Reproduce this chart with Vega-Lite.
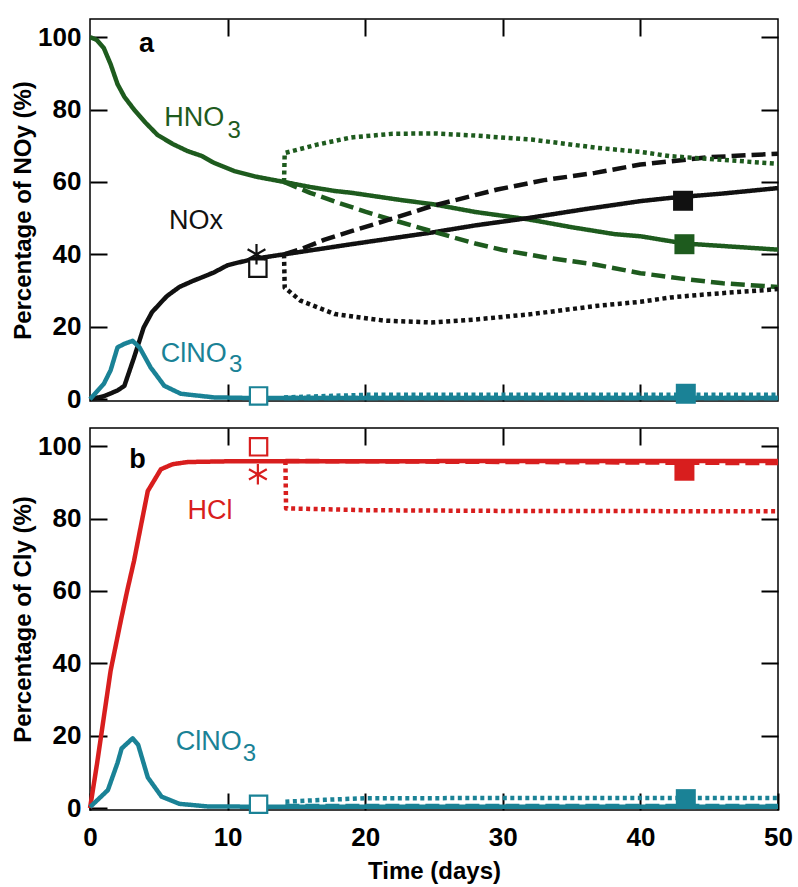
{
  "$schema": "https://vega.github.io/schema/vega-lite/v6.json",
  "background": "#ffffff",
  "padding": {"top": 17, "left": 10, "right": 4, "bottom": 0},
  "config": {
    "view": {"stroke": "#000000", "strokeWidth": 1.5},
    "font": "Liberation Sans",
    "axis": {"labelFlush": false, "labelOverlap": false, "minExtent": 0}
  },
  "spacing": 27,
  "bounds": "flush",
  "datasets": {
    "lines": [
      {"p":"a","sp":"HNO3","sc":"solid","t":0,"v":100},{"p":"a","sp":"HNO3","sc":"solid","t":0.5,"v":99.2},{"p":"a","sp":"HNO3","sc":"solid","t":1,"v":97},{"p":"a","sp":"HNO3","sc":"solid","t":1.5,"v":92.5},{"p":"a","sp":"HNO3","sc":"solid","t":2,"v":87},{"p":"a","sp":"HNO3","sc":"solid","t":2.5,"v":83.5},{"p":"a","sp":"HNO3","sc":"solid","t":3.2,"v":80},{"p":"a","sp":"HNO3","sc":"solid","t":4,"v":76.5},{"p":"a","sp":"HNO3","sc":"solid","t":4.9,"v":73},{"p":"a","sp":"HNO3","sc":"solid","t":6,"v":70.5},{"p":"a","sp":"HNO3","sc":"solid","t":7.1,"v":68.5},{"p":"a","sp":"HNO3","sc":"solid","t":8.1,"v":67.2},{"p":"a","sp":"HNO3","sc":"solid","t":9,"v":65.3},{"p":"a","sp":"HNO3","sc":"solid","t":10.5,"v":63},{"p":"a","sp":"HNO3","sc":"solid","t":12,"v":61.5},{"p":"a","sp":"HNO3","sc":"solid","t":14.1,"v":60},{"p":"a","sp":"HNO3","sc":"solid","t":16,"v":58.6},{"p":"a","sp":"HNO3","sc":"solid","t":17.8,"v":57.5},{"p":"a","sp":"HNO3","sc":"solid","t":19,"v":57},{"p":"a","sp":"HNO3","sc":"solid","t":22.6,"v":55},{"p":"a","sp":"HNO3","sc":"solid","t":25,"v":53.8},{"p":"a","sp":"HNO3","sc":"solid","t":28,"v":51.7},{"p":"a","sp":"HNO3","sc":"solid","t":31.8,"v":49.7},{"p":"a","sp":"HNO3","sc":"solid","t":35,"v":47.5},{"p":"a","sp":"HNO3","sc":"solid","t":38.1,"v":45.6},{"p":"a","sp":"HNO3","sc":"solid","t":40,"v":45},{"p":"a","sp":"HNO3","sc":"solid","t":43.2,"v":43},{"p":"a","sp":"HNO3","sc":"solid","t":46,"v":42.3},{"p":"a","sp":"HNO3","sc":"solid","t":50,"v":41.3},
      {"p":"a","sp":"NOx","sc":"solid","t":0,"v":0},{"p":"a","sp":"NOx","sc":"solid","t":1,"v":0.8},{"p":"a","sp":"NOx","sc":"solid","t":2,"v":2.4},{"p":"a","sp":"NOx","sc":"solid","t":2.5,"v":3.7},{"p":"a","sp":"NOx","sc":"solid","t":3.2,"v":11.5},{"p":"a","sp":"NOx","sc":"solid","t":3.9,"v":19.8},{"p":"a","sp":"NOx","sc":"solid","t":4.5,"v":24},{"p":"a","sp":"NOx","sc":"solid","t":5.15,"v":26.7},{"p":"a","sp":"NOx","sc":"solid","t":5.6,"v":28.5},{"p":"a","sp":"NOx","sc":"solid","t":6.5,"v":31},{"p":"a","sp":"NOx","sc":"solid","t":7.5,"v":32.7},{"p":"a","sp":"NOx","sc":"solid","t":8.1,"v":33.6},{"p":"a","sp":"NOx","sc":"solid","t":9,"v":35},{"p":"a","sp":"NOx","sc":"solid","t":10,"v":37},{"p":"a","sp":"NOx","sc":"solid","t":10.5,"v":37.5},{"p":"a","sp":"NOx","sc":"solid","t":12,"v":38.8},{"p":"a","sp":"NOx","sc":"solid","t":14.1,"v":40},{"p":"a","sp":"NOx","sc":"solid","t":19,"v":42.8},{"p":"a","sp":"NOx","sc":"solid","t":22.6,"v":44.8},{"p":"a","sp":"NOx","sc":"solid","t":24.8,"v":46},{"p":"a","sp":"NOx","sc":"solid","t":28,"v":48},{"p":"a","sp":"NOx","sc":"solid","t":31.8,"v":50},{"p":"a","sp":"NOx","sc":"solid","t":36,"v":52.5},{"p":"a","sp":"NOx","sc":"solid","t":40,"v":54.7},{"p":"a","sp":"NOx","sc":"solid","t":42.2,"v":55.6},{"p":"a","sp":"NOx","sc":"solid","t":46,"v":56.8},{"p":"a","sp":"NOx","sc":"solid","t":50,"v":58.3},
      {"p":"a","sp":"ClNO3","sc":"solid","t":0,"v":0},{"p":"a","sp":"ClNO3","sc":"solid","t":1,"v":4.2},{"p":"a","sp":"ClNO3","sc":"solid","t":1.5,"v":8},{"p":"a","sp":"ClNO3","sc":"solid","t":2,"v":14.3},{"p":"a","sp":"ClNO3","sc":"solid","t":2.5,"v":15.3},{"p":"a","sp":"ClNO3","sc":"solid","t":3.1,"v":16.1},{"p":"a","sp":"ClNO3","sc":"solid","t":3.6,"v":14.3},{"p":"a","sp":"ClNO3","sc":"solid","t":4.4,"v":8.8},{"p":"a","sp":"ClNO3","sc":"solid","t":5.4,"v":3.7},{"p":"a","sp":"ClNO3","sc":"solid","t":6.6,"v":1.5},{"p":"a","sp":"ClNO3","sc":"solid","t":9,"v":0.5},{"p":"a","sp":"ClNO3","sc":"solid","t":12,"v":0.3},{"p":"a","sp":"ClNO3","sc":"solid","t":30,"v":0.3},{"p":"a","sp":"ClNO3","sc":"solid","t":50,"v":0.3},
      {"p":"a","sp":"HNO3","sc":"dashed","t":14.1,"v":60},{"p":"a","sp":"HNO3","sc":"dashed","t":16,"v":57},{"p":"a","sp":"HNO3","sc":"dashed","t":18,"v":54.3},{"p":"a","sp":"HNO3","sc":"dashed","t":20,"v":51.8},{"p":"a","sp":"HNO3","sc":"dashed","t":22,"v":49.5},{"p":"a","sp":"HNO3","sc":"dashed","t":25,"v":46.2},{"p":"a","sp":"HNO3","sc":"dashed","t":28,"v":43},{"p":"a","sp":"HNO3","sc":"dashed","t":30,"v":41.2},{"p":"a","sp":"HNO3","sc":"dashed","t":33,"v":39.2},{"p":"a","sp":"HNO3","sc":"dashed","t":36.7,"v":37.2},{"p":"a","sp":"HNO3","sc":"dashed","t":40,"v":34.8},{"p":"a","sp":"HNO3","sc":"dashed","t":43,"v":33.3},{"p":"a","sp":"HNO3","sc":"dashed","t":46,"v":32},{"p":"a","sp":"HNO3","sc":"dashed","t":50,"v":31},
      {"p":"a","sp":"NOx","sc":"dashed","t":14.1,"v":40},{"p":"a","sp":"NOx","sc":"dashed","t":15.3,"v":41.4},{"p":"a","sp":"NOx","sc":"dashed","t":17,"v":44},{"p":"a","sp":"NOx","sc":"dashed","t":19,"v":46.4},{"p":"a","sp":"NOx","sc":"dashed","t":22.6,"v":50.6},{"p":"a","sp":"NOx","sc":"dashed","t":24.8,"v":53.3},{"p":"a","sp":"NOx","sc":"dashed","t":29.6,"v":57.9},{"p":"a","sp":"NOx","sc":"dashed","t":33,"v":60.5},{"p":"a","sp":"NOx","sc":"dashed","t":36.7,"v":62.5},{"p":"a","sp":"NOx","sc":"dashed","t":40,"v":64.8},{"p":"a","sp":"NOx","sc":"dashed","t":42.2,"v":65.7},{"p":"a","sp":"NOx","sc":"dashed","t":44.9,"v":66.8},{"p":"a","sp":"NOx","sc":"dashed","t":50,"v":67.8},
      {"p":"a","sp":"HNO3","sc":"dotted","t":14.1,"v":60},{"p":"a","sp":"HNO3","sc":"dotted","t":14.15,"v":68},{"p":"a","sp":"HNO3","sc":"dotted","t":16.5,"v":70.3},{"p":"a","sp":"HNO3","sc":"dotted","t":19,"v":72.3},{"p":"a","sp":"HNO3","sc":"dotted","t":22,"v":73.3},{"p":"a","sp":"HNO3","sc":"dotted","t":25,"v":73.4},{"p":"a","sp":"HNO3","sc":"dotted","t":28,"v":72.8},{"p":"a","sp":"HNO3","sc":"dotted","t":32.1,"v":71.7},{"p":"a","sp":"HNO3","sc":"dotted","t":36.9,"v":69.4},{"p":"a","sp":"HNO3","sc":"dotted","t":40,"v":68.3},{"p":"a","sp":"HNO3","sc":"dotted","t":42.2,"v":67.1},{"p":"a","sp":"HNO3","sc":"dotted","t":44.9,"v":66.4},{"p":"a","sp":"HNO3","sc":"dotted","t":50,"v":65},
      {"p":"a","sp":"NOx","sc":"dotted","t":14.1,"v":40},{"p":"a","sp":"NOx","sc":"dotted","t":14.15,"v":30.8},{"p":"a","sp":"NOx","sc":"dotted","t":15.3,"v":27.2},{"p":"a","sp":"NOx","sc":"dotted","t":17.8,"v":23.5},{"p":"a","sp":"NOx","sc":"dotted","t":21.4,"v":21.7},{"p":"a","sp":"NOx","sc":"dotted","t":24.8,"v":21.2},{"p":"a","sp":"NOx","sc":"dotted","t":28,"v":22},{"p":"a","sp":"NOx","sc":"dotted","t":32.1,"v":23.5},{"p":"a","sp":"NOx","sc":"dotted","t":36.9,"v":25.8},{"p":"a","sp":"NOx","sc":"dotted","t":40,"v":26.9},{"p":"a","sp":"NOx","sc":"dotted","t":42.2,"v":28.1},{"p":"a","sp":"NOx","sc":"dotted","t":44.9,"v":29},{"p":"a","sp":"NOx","sc":"dotted","t":50,"v":30.4},
      {"p":"a","sp":"ClNO3","sc":"dashed","t":14.1,"v":0.3},{"p":"a","sp":"ClNO3","sc":"dashed","t":50,"v":0.3},
      {"p":"a","sp":"ClNO3","sc":"dotted","t":14.1,"v":0.5},{"p":"a","sp":"ClNO3","sc":"dotted","t":20,"v":1.2},{"p":"a","sp":"ClNO3","sc":"dotted","t":50,"v":1.2},
      {"p":"b","sp":"HCl","sc":"solid","t":0,"v":0},{"p":"b","sp":"HCl","sc":"solid","t":0.5,"v":12},{"p":"b","sp":"HCl","sc":"solid","t":1,"v":25},{"p":"b","sp":"HCl","sc":"solid","t":1.5,"v":38},{"p":"b","sp":"HCl","sc":"solid","t":2.24,"v":51.8},{"p":"b","sp":"HCl","sc":"solid","t":2.7,"v":60},{"p":"b","sp":"HCl","sc":"solid","t":3.2,"v":68.3},{"p":"b","sp":"HCl","sc":"solid","t":3.7,"v":78},{"p":"b","sp":"HCl","sc":"solid","t":4.2,"v":87.6},{"p":"b","sp":"HCl","sc":"solid","t":5.15,"v":93.6},{"p":"b","sp":"HCl","sc":"solid","t":6,"v":95},{"p":"b","sp":"HCl","sc":"solid","t":7.1,"v":95.6},{"p":"b","sp":"HCl","sc":"solid","t":10,"v":95.8},{"p":"b","sp":"HCl","sc":"solid","t":20,"v":95.8},{"p":"b","sp":"HCl","sc":"solid","t":30,"v":95.9},{"p":"b","sp":"HCl","sc":"solid","t":50,"v":95.9},
      {"p":"b","sp":"HCl","sc":"dashed","t":14.2,"v":95.9},{"p":"b","sp":"HCl","sc":"dashed","t":50,"v":95.3},
      {"p":"b","sp":"HCl","sc":"dotted","t":14.2,"v":95.9},{"p":"b","sp":"HCl","sc":"dotted","t":14.25,"v":82.8},{"p":"b","sp":"HCl","sc":"dotted","t":20,"v":82.3},{"p":"b","sp":"HCl","sc":"dotted","t":30,"v":82.1},{"p":"b","sp":"HCl","sc":"dotted","t":50,"v":82},
      {"p":"b","sp":"ClNO3","sc":"solid","t":0,"v":0.3},{"p":"b","sp":"ClNO3","sc":"solid","t":1.3,"v":5},{"p":"b","sp":"ClNO3","sc":"solid","t":2,"v":12.5},{"p":"b","sp":"ClNO3","sc":"solid","t":2.3,"v":16.5},{"p":"b","sp":"ClNO3","sc":"solid","t":3.1,"v":19.3},{"p":"b","sp":"ClNO3","sc":"solid","t":3.5,"v":17.5},{"p":"b","sp":"ClNO3","sc":"solid","t":4.2,"v":8.5},{"p":"b","sp":"ClNO3","sc":"solid","t":5.2,"v":3.2},{"p":"b","sp":"ClNO3","sc":"solid","t":6.5,"v":1.2},{"p":"b","sp":"ClNO3","sc":"solid","t":8.5,"v":0.5},{"p":"b","sp":"ClNO3","sc":"solid","t":12,"v":0.4},{"p":"b","sp":"ClNO3","sc":"solid","t":50,"v":0.4},
      {"p":"b","sp":"ClNO3","sc":"dashed","t":14.2,"v":0.6},{"p":"b","sp":"ClNO3","sc":"dashed","t":50,"v":0.6},
      {"p":"b","sp":"ClNO3","sc":"dotted","t":14.2,"v":1.8},{"p":"b","sp":"ClNO3","sc":"dotted","t":17,"v":2.3},{"p":"b","sp":"ClNO3","sc":"dotted","t":20,"v":2.75},{"p":"b","sp":"ClNO3","sc":"dotted","t":30,"v":2.8},{"p":"b","sp":"ClNO3","sc":"dotted","t":50,"v":2.8}
    ],
    "open": [
      {"p":"a","sp":"NOx","mk":"square","t":12.2,"v":36.2},
      {"p":"a","sp":"NOx","mk":"asterisk","t":12.1,"v":40},
      {"p":"a","sp":"ClNO3","mk":"square","t":12.25,"v":0.9},
      {"p":"b","sp":"HCl","mk":"square","t":12.25,"v":99.8},
      {"p":"b","sp":"HCl","mk":"asterisk","t":12.2,"v":92.2},
      {"p":"b","sp":"ClNO3","mk":"square","t":12.25,"v":1.1}
    ],
    "filled": [
      {"p":"a","sp":"NOx","t":43.1,"v":54.8},
      {"p":"a","sp":"HNO3","t":43.2,"v":42.8},
      {"p":"a","sp":"ClNO3","t":43.3,"v":1.5},
      {"p":"b","sp":"HCl","t":43.2,"v":93.2},
      {"p":"b","sp":"ClNO3","t":43.3,"v":2.5}
    ],
    "labels": [
      {"p":"a","sp":"HNO3","part":"main","txt":"HNO","t":5.39,"v":75.4},
      {"p":"a","sp":"HNO3","part":"sub","txt":"3","t":10.0,"v":72.0},
      {"p":"a","sp":"NOx","part":"main","txt":"NOx","t":5.75,"v":46.9},
      {"p":"a","sp":"ClNO3","part":"main","txt":"ClNO","t":5.15,"v":10.2},
      {"p":"a","sp":"ClNO3","part":"sub","txt":"3","t":10.1,"v":7.6},
      {"p":"b","sp":"HCl","part":"main","txt":"HCl","t":7.09,"v":79.8},
      {"p":"b","sp":"ClNO3","part":"main","txt":"ClNO","t":6.24,"v":16.0},
      {"p":"b","sp":"ClNO3","part":"sub","txt":"3","t":11.1,"v":13.0}
    ],
    "letters": [
      {"p":"a","txt":"a","t":3.57,"v":96.0},
      {"p":"b","txt":"b","t":2.85,"v":94.0}
    ]
  },
  "vconcat": [
    {
      "width": 688,
      "height": 382,
      "resolve": {"axis": {"x": "independent", "y": "independent"}},
      "layer": [
        {
          "data": {"name": "lines"},
          "transform": [{"filter": "datum.p === 'a'"}],
          "mark": {"type": "line", "strokeCap": "butt", "strokeJoin": "round", "strokeWidth": 4.5},
          "encoding": {
            "x": {"field": "t", "type": "quantitative", "scale": {"domain": [0, 50], "nice": false, "zero": false},
                  "axis": {"orient": "bottom", "values": [10, 20, 30, 40], "tickSize": -17, "tickWidth": 2, "tickColor": "#000000", "labels": false, "domain": false, "grid": false, "title": null}},
            "y": {"field": "v", "type": "quantitative", "scale": {"domain": [-0.5, 105], "nice": false, "zero": false},
                  "axis": {"orient": "left", "values": [0, 20, 40, 60, 80, 100], "tickSize": -17, "tickWidth": 2, "tickColor": "#000000", "labelPadding": 26, "labelFontSize": 26, "labelFontWeight": "bold", "labelColor": "#000000", "domain": false, "grid": false, "title": "Percentage of NOy (%)", "titleFontSize": 24, "titleFontWeight": "bold", "titleColor": "#000000", "titlePadding": 2}},
            "color": {"field": "sp", "type": "nominal", "scale": {"domain": ["HNO3", "NOx", "ClNO3", "HCl"], "range": ["#1e5b1e", "#111111", "#1a8296", "#d81e1e"]}, "legend": null},
            "strokeDash": {"field": "sc", "type": "nominal", "scale": {"domain": ["solid", "dashed", "dotted"], "range": [[1, 0], [14, 6], [4, 3.5]]}, "legend": null}
          }
        },
        {
          "data": {"name": "open"},
          "transform": [{"filter": "datum.p === 'a'"}],
          "mark": {"type": "point", "filled": false, "fill": "#ffffff", "fillOpacity": 1, "strokeWidth": 2.2, "opacity": 1},
          "encoding": {
            "x": {"field": "t", "type": "quantitative", "axis": null},
            "y": {"field": "v", "type": "quantitative", "axis": null},
            "color": {"field": "sp", "type": "nominal", "legend": null},
            "shape": {"field": "mk", "type": "nominal", "scale": {"domain": ["square", "asterisk"], "range": ["square", "M0,-1L0,1M-0.87,-0.5L0.87,0.5M-0.87,0.5L0.87,-0.5"]}, "legend": null},
            "size": {"field": "mk", "type": "ordinal", "scale": {"domain": ["square", "asterisk"], "range": [300, 420]}, "legend": null}
          }
        },
        {
          "data": {"name": "filled"},
          "transform": [{"filter": "datum.p === 'a'"}],
          "mark": {"type": "point", "filled": true, "shape": "square", "size": 400, "opacity": 1},
          "encoding": {
            "x": {"field": "t", "type": "quantitative", "axis": null},
            "y": {"field": "v", "type": "quantitative", "axis": null},
            "color": {"field": "sp", "type": "nominal", "legend": null}
          }
        },
        {
          "data": {"name": "labels"},
          "transform": [{"filter": "datum.p === 'a' && datum.part === 'main'"}],
          "mark": {"type": "text", "align": "left", "baseline": "alphabetic", "fontSize": 27},
          "encoding": {
            "x": {"field": "t", "type": "quantitative",
                  "axis": {"orient": "top", "values": [10, 20, 30, 40], "tickSize": -17, "tickWidth": 2, "tickColor": "#000000", "labels": false, "domain": false, "grid": false, "title": null}},
            "y": {"field": "v", "type": "quantitative",
                  "axis": {"orient": "right", "values": [20, 40, 60, 80, 100], "tickSize": -17, "tickWidth": 2, "tickColor": "#000000", "labels": false, "domain": false, "grid": false, "title": null}},
            "text": {"field": "txt"},
            "color": {"field": "sp", "type": "nominal", "legend": null}
          }
        },
        {
          "data": {"name": "labels"},
          "transform": [{"filter": "datum.p === 'a' && datum.part === 'sub'"}],
          "mark": {"type": "text", "align": "left", "baseline": "alphabetic", "fontSize": 24},
          "encoding": {
            "x": {"field": "t", "type": "quantitative", "axis": null},
            "y": {"field": "v", "type": "quantitative", "axis": null},
            "text": {"field": "txt"},
            "color": {"field": "sp", "type": "nominal", "legend": null}
          }
        },
        {
          "data": {"name": "letters"},
          "transform": [{"filter": "datum.p === 'a'"}],
          "mark": {"type": "text", "align": "left", "baseline": "alphabetic", "fontSize": 27, "fontWeight": "bold", "color": "#000000"},
          "encoding": {
            "x": {"field": "t", "type": "quantitative", "axis": null},
            "y": {"field": "v", "type": "quantitative", "axis": null},
            "text": {"field": "txt"}
          }
        }
      ]
    },
    {
      "width": 688,
      "height": 382,
      "resolve": {"axis": {"x": "independent", "y": "independent"}},
      "layer": [
        {
          "data": {"name": "lines"},
          "transform": [{"filter": "datum.p === 'b'"}],
          "mark": {"type": "line", "strokeCap": "butt", "strokeJoin": "round", "strokeWidth": 4.5},
          "encoding": {
            "x": {"field": "t", "type": "quantitative", "scale": {"domain": [0, 50], "nice": false, "zero": false},
                  "axis": {"orient": "bottom", "values": [0, 10, 20, 30, 40, 50], "tickSize": -17, "tickWidth": 2, "tickColor": "#000000", "labelPadding": 31, "labelFontSize": 26, "labelFontWeight": "bold", "labelColor": "#000000", "labelFlush": false, "domain": false, "grid": false, "title": "Time (days)", "titleFontSize": 24, "titleFontWeight": "bold", "titleColor": "#000000", "titlePadding": 9}},
            "y": {"field": "v", "type": "quantitative", "scale": {"domain": [-0.5, 105], "nice": false, "zero": false},
                  "axis": {"orient": "left", "values": [0, 20, 40, 60, 80, 100], "tickSize": -17, "tickWidth": 2, "tickColor": "#000000", "labelPadding": 26, "labelFontSize": 26, "labelFontWeight": "bold", "labelColor": "#000000", "domain": false, "grid": false, "title": "Percentage of Cly (%)", "titleFontSize": 24, "titleFontWeight": "bold", "titleColor": "#000000", "titlePadding": 2}},
            "color": {"field": "sp", "type": "nominal", "scale": {"domain": ["HNO3", "NOx", "ClNO3", "HCl"], "range": ["#1e5b1e", "#111111", "#1a8296", "#d81e1e"]}, "legend": null},
            "strokeDash": {"field": "sc", "type": "nominal", "scale": {"domain": ["solid", "dashed", "dotted"], "range": [[1, 0], [14, 6], [4, 3.5]]}, "legend": null}
          }
        },
        {
          "data": {"name": "open"},
          "transform": [{"filter": "datum.p === 'b'"}],
          "mark": {"type": "point", "filled": false, "fill": "#ffffff", "fillOpacity": 1, "strokeWidth": 2.2, "opacity": 1},
          "encoding": {
            "x": {"field": "t", "type": "quantitative", "axis": null},
            "y": {"field": "v", "type": "quantitative", "axis": null},
            "color": {"field": "sp", "type": "nominal", "legend": null},
            "shape": {"field": "mk", "type": "nominal", "scale": {"domain": ["square", "asterisk"], "range": ["square", "M0,-1L0,1M-0.87,-0.5L0.87,0.5M-0.87,0.5L0.87,-0.5"]}, "legend": null},
            "size": {"field": "mk", "type": "ordinal", "scale": {"domain": ["square", "asterisk"], "range": [300, 420]}, "legend": null}
          }
        },
        {
          "data": {"name": "filled"},
          "transform": [{"filter": "datum.p === 'b'"}],
          "mark": {"type": "point", "filled": true, "shape": "square", "size": 400, "opacity": 1},
          "encoding": {
            "x": {"field": "t", "type": "quantitative", "axis": null},
            "y": {"field": "v", "type": "quantitative", "axis": null},
            "color": {"field": "sp", "type": "nominal", "legend": null}
          }
        },
        {
          "data": {"name": "labels"},
          "transform": [{"filter": "datum.p === 'b' && datum.part === 'main'"}],
          "mark": {"type": "text", "align": "left", "baseline": "alphabetic", "fontSize": 27},
          "encoding": {
            "x": {"field": "t", "type": "quantitative",
                  "axis": {"orient": "top", "values": [10, 20, 30, 40], "tickSize": -17, "tickWidth": 2, "tickColor": "#000000", "labels": false, "domain": false, "grid": false, "title": null}},
            "y": {"field": "v", "type": "quantitative",
                  "axis": {"orient": "right", "values": [20, 40, 60, 80, 100], "tickSize": -17, "tickWidth": 2, "tickColor": "#000000", "labels": false, "domain": false, "grid": false, "title": null}},
            "text": {"field": "txt"},
            "color": {"field": "sp", "type": "nominal", "legend": null}
          }
        },
        {
          "data": {"name": "labels"},
          "transform": [{"filter": "datum.p === 'b' && datum.part === 'sub'"}],
          "mark": {"type": "text", "align": "left", "baseline": "alphabetic", "fontSize": 24},
          "encoding": {
            "x": {"field": "t", "type": "quantitative", "axis": null},
            "y": {"field": "v", "type": "quantitative", "axis": null},
            "text": {"field": "txt"},
            "color": {"field": "sp", "type": "nominal", "legend": null}
          }
        },
        {
          "data": {"name": "letters"},
          "transform": [{"filter": "datum.p === 'b'"}],
          "mark": {"type": "text", "align": "left", "baseline": "alphabetic", "fontSize": 27, "fontWeight": "bold", "color": "#000000"},
          "encoding": {
            "x": {"field": "t", "type": "quantitative", "axis": null},
            "y": {"field": "v", "type": "quantitative", "axis": null},
            "text": {"field": "txt"}
          }
        }
      ]
    }
  ]
}
